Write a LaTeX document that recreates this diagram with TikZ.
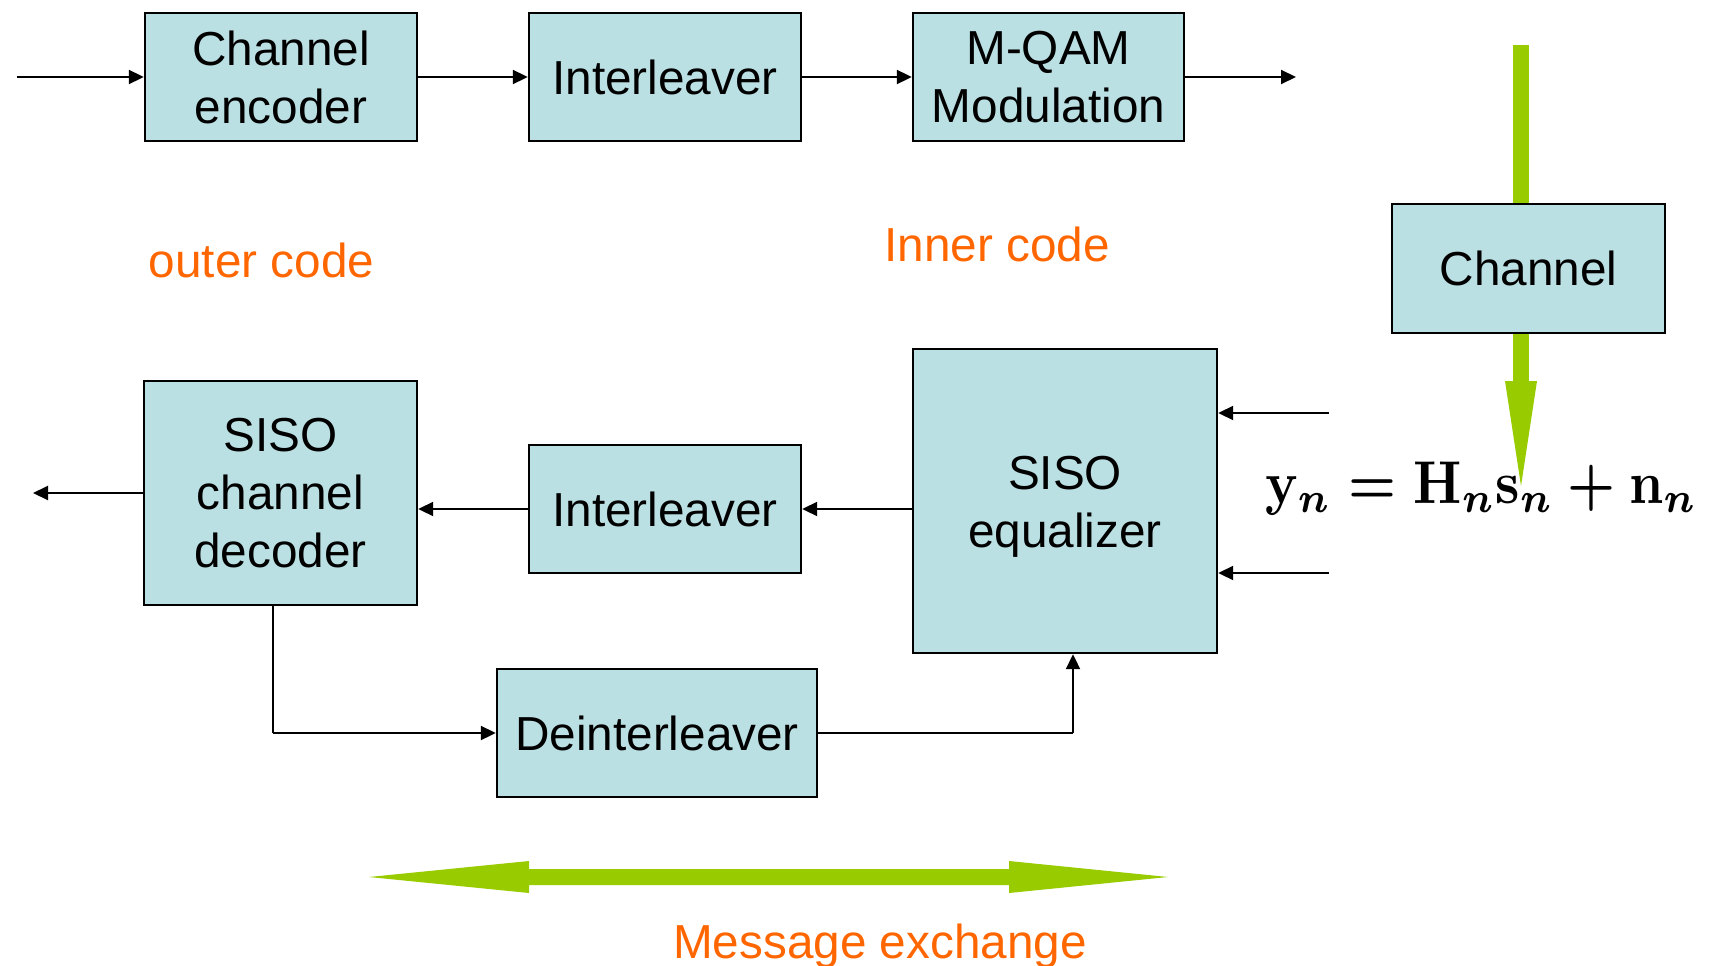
\documentclass[tikz,border=0pt]{standalone}
\usepackage{fontspec}
\setmainfont{Liberation Sans}
\usepackage{graphicx}
\usetikzlibrary{arrows.meta}
\definecolor{boxfill}{RGB}{187,224,227}
\definecolor{leaf}{RGB}{153,204,0}
\definecolor{tangerine}{RGB}{255,102,0}
\tikzset{
  block/.style={draw=black, line width=2.4pt, fill=boxfill, inner sep=0pt,
    align=center, font=\fontsize{47.7}{58}\selectfont},
  arr/.style={line width=2pt, -{Triangle[length=15pt,width=14pt]}},
  wire/.style={line width=2pt},
  note/.style={text=tangerine, inner sep=0pt, anchor=base,
    font=\fontsize{47.7}{58}\selectfont},
  flow/.style={fill=leaf, draw=none}
}
\begin{document}
\begin{tikzpicture}[x=1pt,y=-1pt]
\useasboundingbox (0,0) rectangle (1718,966);

% green channel arrow, shaft behind the channel block
\fill[flow] (1513,45) rectangle (1529,381);

% transmitter chain
\node[block, minimum width=272pt, minimum height=128pt] (enc) at (281,77) {Channel\\encoder};
\node[block, minimum width=272pt, minimum height=128pt] (il1) at (665,77) {Interleaver};
\node[block, minimum width=271pt, minimum height=128pt] (qam) at (1048.5,77) {M-QAM\\Modulation};
\node[block, minimum width=273pt, minimum height=129pt] (chan) at (1528.5,268.5) {Channel};

% receiver
\node[block, minimum width=273pt, minimum height=224pt] (dec) at (280.5,493) {SISO\\channel\\decoder};
\node[block, minimum width=272pt, minimum height=128pt] (il2) at (665,509) {Interleaver};
\node[block, minimum width=304pt, minimum height=304pt] (eq) at (1065,501)
  {\raisebox{-6pt}[\height][\depth]{\begin{tabular}{@{}c@{}}SISO\\equalizer\end{tabular}}};
\node[block, minimum width=320pt, minimum height=128pt] (deint) at (657,733) {Deinterleaver};

% labels
\node[note] (outer) at (261.5,277) {outer code};
\node[note] (inner) at (997,261) {Inner code};
\node[note] (msg) at (880,958) {Message exchange};

% received signal model
\node[anchor=base west, inner sep=0pt] (model) at (1265,503.5)
  {\resizebox{432pt}{41.5pt}{\boldmath$\mathbf{y}_n = \mathbf{H}_n\mathbf{s}_n+\mathbf{n}_n$}};

% green arrow head onto the model
\fill[flow] (1505,381) -- (1537,381) -- (1521,486) -- cycle;

% double-headed message exchange arrow
\fill[flow] (369,877) -- (529,861) -- (529,869) -- (1009,869) -- (1009,861)
  -- (1168,877) -- (1009,893) -- (1009,885) -- (529,885) -- (529,893) -- cycle;

% free ends of the connectors
\coordinate (src) at (17,77);
\coordinate (txout) at (1296,77);
\coordinate (rxout) at (33,493);
\coordinate (obsA) at (1329,413);
\coordinate (obsB) at (1329,573);
\coordinate (fbA) at (273,733);
\coordinate (fbB) at (1073,733);

% transmitter connectors
\draw[arr] (src) -- (enc.west);
\draw[arr] (enc.east) -- (il1.west);
\draw[arr] (il1.east) -- (qam.west);
\draw[arr] (qam.east) -- (txout);

% receiver connectors
\draw[arr] (il2.east -| eq.west) -- (il2.east);
\draw[arr] (il2.west) -- (il2.west -| dec.east);
\draw[arr] (dec.west) -- (rxout);
\draw[arr] (obsA) -- (obsA -| eq.east);
\draw[arr] (obsB) -- (obsB -| eq.east);
\draw[wire] (fbA |- dec.south) -- (fbA);
\draw[arr] (fbA) -- (deint.west);
\draw[wire] (deint.east) -- (fbB);
\draw[arr] (fbB) -- (fbB |- eq.south);
\end{tikzpicture}
\end{document}
